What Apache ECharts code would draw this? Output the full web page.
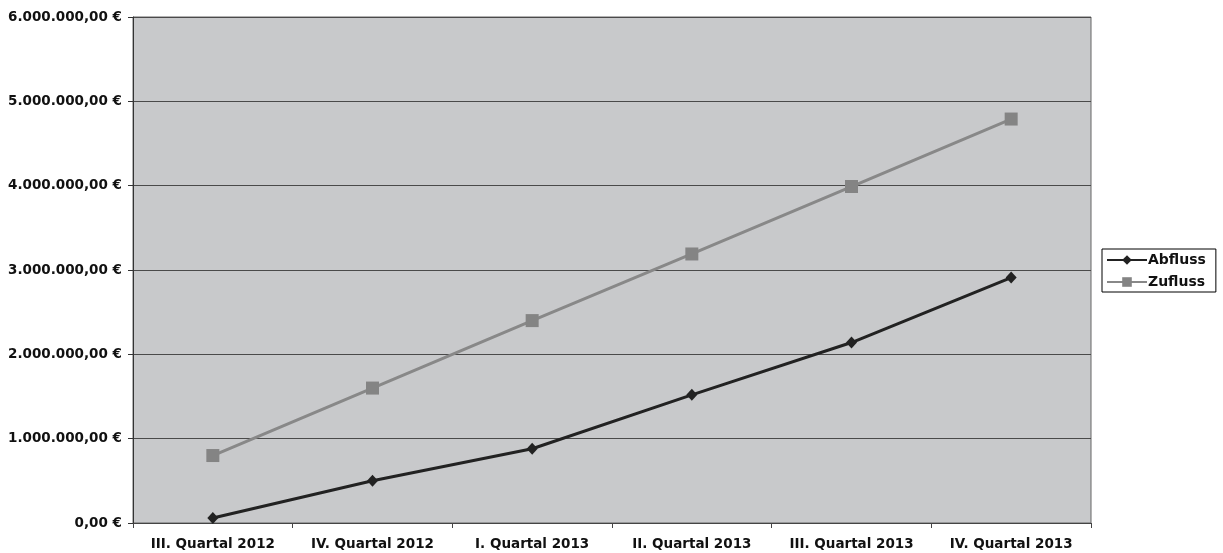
<!DOCTYPE html>
<html>
<head>
<meta charset="utf-8">
<script src="https://cdn.jsdelivr.net/npm/echarts@6/dist/echarts.min.js"></script>
<style>
  html, body { margin: 0; padding: 0; background: #ffffff; }
  #chart { width: 1223px; height: 553px; }
</style>
</head>
<body>
<div id="chart"></div>
<script>
// Quartale
const quarters = ['III. Quartal 2012', 'IV. Quartal 2012', 'I. Quartal 2013', 'II. Quartal 2013', 'III. Quartal 2013', 'IV. Quartal 2013'];
// Kumulierte Beträge in Euro
const abfluss = [60000, 500000, 880000, 1520000, 2140000, 2910000];
const zufluss = [800000, 1600000, 2400000, 3190000, 3990000, 4790000];
// Achsenbereich
const yMin = 0;
const yMax = 6000000;
const yStep = 1000000;

function euro(v) {
  const int = Math.round(v).toString().replace(/\B(?=(\d{3})+(?!\d))/g, '.');
  return int + ',00 €';
}

const font = 'DejaVu Sans, Verdana, sans-serif';
const chart = echarts.init(document.getElementById('chart'), null, { renderer: 'canvas' });
chart.setOption({
  animation: false,
  backgroundColor: '#ffffff',
  grid: {
    left: 133, right: 132, top: 17, bottom: 30,
    show: true,
    backgroundColor: '#c8c9cb',
    borderColor: '#666666',
    borderWidth: 1
  },
  legend: {
    orient: 'vertical',
    left: 1102,
    top: 249,
    padding: [4, 10, 3, 4],
    borderColor: '#000000',
    borderWidth: 1,
    itemWidth: 40,
    itemHeight: 12,
    itemGap: 8,
    textStyle: { fontFamily: font, fontWeight: 'bold', fontSize: 14, color: '#111111', padding: [0, 0, 0, -4] },
    data: ['Abfluss', 'Zufluss']
  },
  xAxis: {
    type: 'category',
    data: quarters,
    boundaryGap: true,
    axisLine: { show: true, lineStyle: { color: '#444444', width: 1 } },
    axisTick: { show: true, length: 5, inside: false, lineStyle: { color: '#444444' } },
    axisLabel: { fontFamily: font, fontWeight: 'bold', fontSize: 13.5, color: '#111111', margin: 14, interval: 0 },
    splitLine: { show: false }
  },
  yAxis: {
    type: 'value',
    min: yMin,
    max: yMax,
    interval: yStep,
    axisLine: { show: true, lineStyle: { color: '#333333', width: 1 } },
    axisTick: { show: true, length: 5, lineStyle: { color: '#333333' } },
    axisLabel: { fontFamily: font, fontWeight: 'bold', fontSize: 13.5, color: '#111111', margin: 11, formatter: euro },
    splitLine: { show: true, lineStyle: { color: '#4a4a4a', width: 1 } }
  },
  series: [
    {
      name: 'Abfluss',
      type: 'line',
      data: abfluss,
      symbol: 'diamond',
      symbolSize: [11, 12],
      lineStyle: { color: '#222222', width: 3 },
      itemStyle: { color: '#222222' },
      z: 3
    },
    {
      name: 'Zufluss',
      type: 'line',
      data: zufluss,
      symbol: 'rect',
      symbolSize: 13,
      lineStyle: { color: '#888888', width: 3 },
      itemStyle: { color: '#848484' },
      z: 2
    }
  ]
});
</script>
</body>
</html>
